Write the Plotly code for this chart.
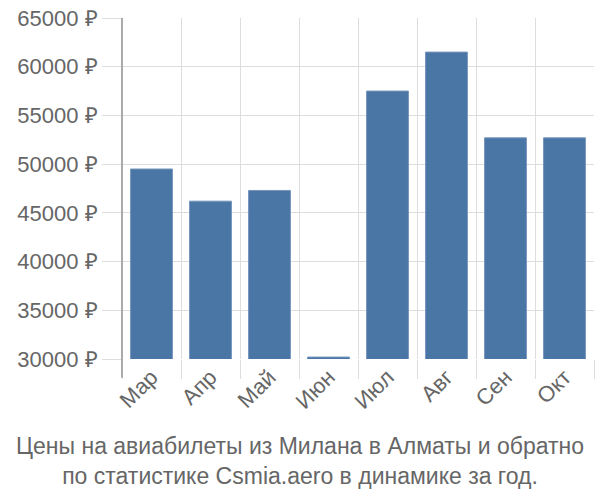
import plotly.graph_objects as go

months = ["Мар", "Апр", "Май", "Июн", "Июл", "Авг", "Сен", "Окт"]
prices = [49500, 46200, 47300, 30200, 57500, 61500, 52700, 52700]
y_ticks = [30000, 35000, 40000, 45000, 50000, 55000, 60000, 65000]
y_labels = [f"{v} ₽" for v in y_ticks]
title_lines = ["Цены на авиабилеты из Милана в Алматы и обратно",
               "по статистике Csmia.aero в динамике за год."]

fig = go.Figure()
fig.add_trace(go.Bar(
    x=months, y=prices,
    marker=dict(color="#4a76a6", line=dict(color="#7796bd", width=1)),
))

font_family = "Liberation Sans, Arial, sans-serif"
L, R, T, B = 122, 6, 14, 141
plot_w = 600 - L - R
plot_h = 500 - T - B
fig.update_layout(
    width=600, height=500,
    margin=dict(l=L, r=R, t=T, b=B),
    plot_bgcolor="white", paper_bgcolor="white",
    bargap=0.29,
    showlegend=False,
    font=dict(family=font_family, size=22, color="#666666"),
    xaxis=dict(
        tickson="boundaries", showgrid=True, gridcolor="#dddddd", gridwidth=1,
        ticks="outside", ticklen=19, tickcolor="#dddddd",
        tickangle=-45, tickfont=dict(size=22, color="#666666"),
        showline=False, zeroline=False,
    ),
    yaxis=dict(
        range=[30000, 65000], tickvals=y_ticks, ticktext=y_labels,
        showgrid=True, gridcolor="#dddddd", gridwidth=1,
        ticks="outside", ticklen=19, tickcolor="#dddddd",
        tickfont=dict(size=22, color="#666666"),
        showline=False, zeroline=False,
    ),
    annotations=[dict(
        text="<br>".join(title_lines), xref="paper", yref="paper",
        x=(300 - L) / plot_w, y=-(432 - (500 - B)) / plot_h,
        xanchor="center", yanchor="top", showarrow=False,
        font=dict(size=23, color="#666666", family=font_family),
    )],
    shapes=[dict(type="line", xref="paper", yref="paper", x0=0, x1=0,
                 y0=-19 / plot_h, y1=1, line=dict(color="#aaaaaa", width=2))],
)
fig.write_html("out.html")
